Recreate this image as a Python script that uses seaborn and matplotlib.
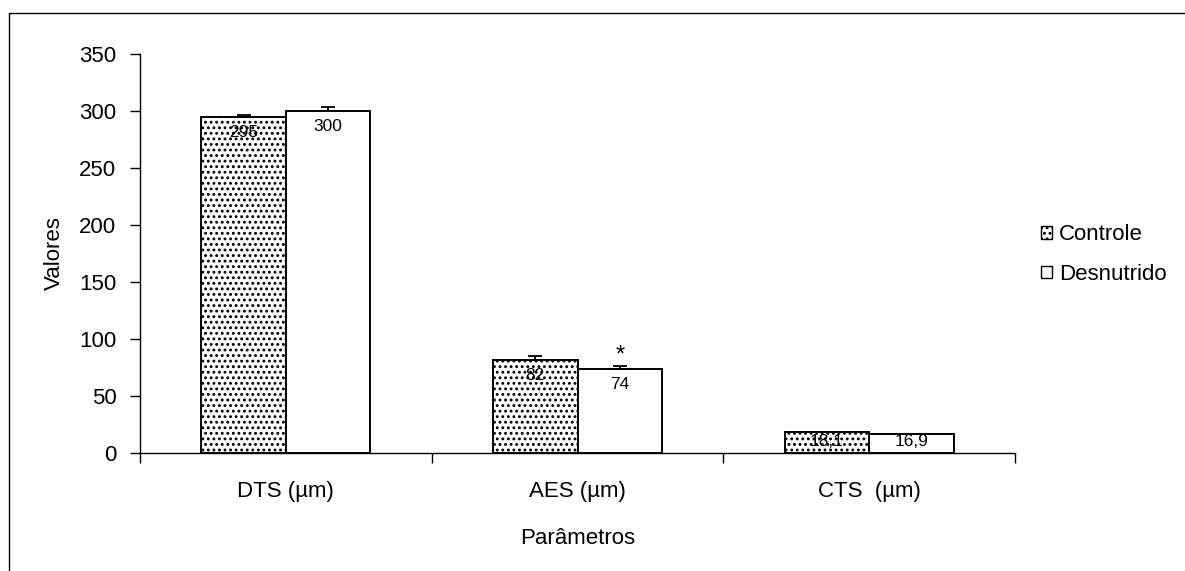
import matplotlib
matplotlib.use("Agg")
import matplotlib.pyplot as plt
from matplotlib.lines import Line2D
from matplotlib.patches import Patch
import seaborn as sns
import pandas as pd
import numpy as np

categories = ["DTS (µm)", "AES (µm)", "CTS  (µm)"]
groups = ["Controle", "Desnutrido"]
controle = [295, 82, 18.1]
desnutrido = [300, 74, 16.9]
err_controle = [1.2, 3.5, 0.0]
err_desnutrido = [3.8, 2.0, 0.0]
labels_controle = ["295", "82", "18,1"]
labels_desnutrido = ["300", "74", "16,9"]

sns.set_style("white")
plt.rcParams["font.family"] = ["Liberation Sans", "DejaVu Sans"]
plt.rcParams["text.color"] = "black"
plt.rcParams["axes.labelcolor"] = "black"
plt.rcParams["xtick.color"] = "black"
plt.rcParams["ytick.color"] = "black"
plt.rcParams["hatch.linewidth"] = 1.3
plt.rcParams["hatch.color"] = "#404040"

df = pd.DataFrame({
    "Parâmetros": categories * 2,
    "Grupo": [groups[0]] * 3 + [groups[1]] * 3,
    "Valores": controle + desnutrido,
})

fig = plt.figure(figsize=(11.85, 5.71), dpi=100)
ax = fig.add_axes([140 / 1185, 1 - 453 / 571, 875 / 1185, 399 / 571])

sns.barplot(data=df, x="Parâmetros", y="Valores", hue="Grupo",
            palette=["white", "white"], edgecolor="black", linewidth=1.4,
            width=0.58, errorbar=None, legend=False, ax=ax)

ax.set_ylim(0, 350)
n = len(categories)
bars_c = ax.patches[:n]
bars_d = ax.patches[n:2 * n]
for b in bars_c:
    b.set_hatch("...")

px_per_unit = (399 / 350)
for bars, vals, errs, labs in [(bars_c, controle, err_controle, labels_controle),
                               (bars_d, desnutrido, err_desnutrido, labels_desnutrido)]:
    xs = [b.get_x() + b.get_width() / 2 for b in bars]
    for x, v, e, t in zip(xs, vals, errs, labs):
        if e > 0:
            ax.errorbar([x], [v], yerr=[[0], [e]], fmt="none", ecolor="black",
                        elinewidth=1.3, capsize=5, capthick=1.3)
        if v * px_per_unit > 35:
            ax.annotate(t, (x, v), xytext=(0, -6), textcoords="offset points",
                        ha="center", va="top", fontsize=12.5)
        else:
            ax.annotate(t, (x, v / 2), xytext=(0, 1), textcoords="offset points",
                        ha="center", va="center", fontsize=12.5)

# significance marker on AES (Desnutrido)
xa = bars_d[1].get_x() + bars_d[1].get_width() / 2
ax.annotate("*", (xa, desnutrido[1] + err_desnutrido[1]), xytext=(0, 0),
            textcoords="offset points", ha="center", va="bottom", fontsize=17)

ax.set_yticks(np.arange(0, 351, 50))
ax.set_xlim(-0.5, n - 0.5)
ax.set_xticks(np.arange(-0.5, n, 1.0))
ax.set_xticklabels([""] * (n + 1))
ax.set_xticks(np.arange(n), minor=True)
ax.set_xticklabels(categories, minor=True, fontsize=16)
ax.tick_params(axis="x", which="major", bottom=True, direction="out", length=7, width=1)
ax.tick_params(axis="x", which="minor", bottom=True, length=0, pad=20)
ax.tick_params(axis="y", left=True, direction="out", length=7, width=1, labelsize=16, pad=10)

for s in ["top", "right"]:
    ax.spines[s].set_visible(False)
for s in ["left", "bottom"]:
    ax.spines[s].set_color("black")
    ax.spines[s].set_linewidth(1)

ax.set_xlabel("Parâmetros", fontsize=16, labelpad=19)
ax.set_ylabel("Valores", fontsize=16, labelpad=10)

handles = [Patch(facecolor="white", edgecolor="black", hatch="...", label=groups[0]),
           Patch(facecolor="white", edgecolor="black", label=groups[1])]
fig.legend(handles=handles, loc="center left", bbox_to_anchor=(1030 / 1185, 1 - 254.5 / 571),
           frameon=False, fontsize=16, handlelength=0.5, handleheight=0.5,
           handletextpad=0.3, labelspacing=0.85, borderpad=0)

# outer frame
fig.add_artist(Line2D([9 / 1185, 9 / 1185], [0, 1 - 13 / 571], color="black", lw=1))
fig.add_artist(Line2D([9 / 1185, 1], [1 - 13 / 571, 1 - 13 / 571], color="black", lw=1))

fig.savefig("out.png", dpi=100)
